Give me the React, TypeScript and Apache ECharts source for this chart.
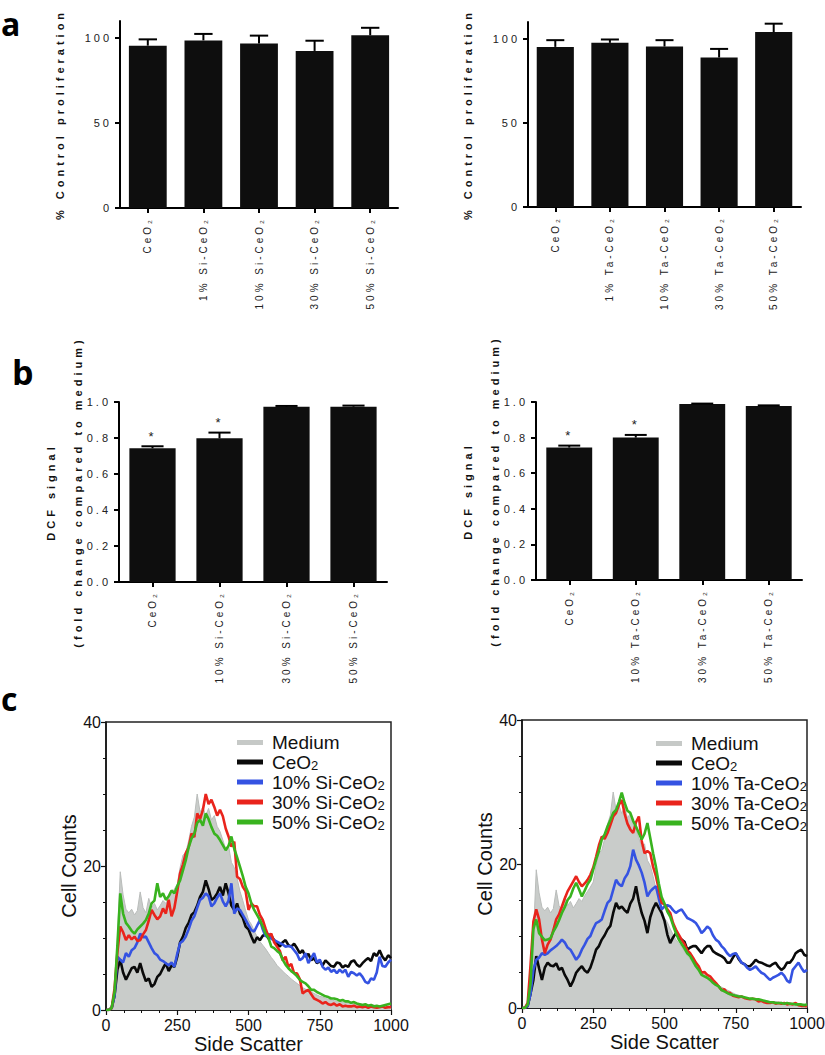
import React, { useEffect, useRef } from 'react';
import * as echarts from 'echarts';

const W = 825;
const H = 1055;
const FONT = "'Liberation Sans', Arial, Helvetica, sans-serif";

// ---------- Panel a : proliferation ----------
const catsASi = ['CeO₂', '1% Si-CeO₂', '10% Si-CeO₂', '30% Si-CeO₂', '50% Si-CeO₂'];
const meanASi = [95.5, 98.6, 96.7, 92.4, 101.6];
const errASi = [3.7, 3.8, 4.7, 6.0, 4.4];
const catsATa = ['CeO₂', '1% Ta-CeO₂', '10% Ta-CeO₂', '30% Ta-CeO₂', '50% Ta-CeO₂'];
const meanATa = [95.2, 97.6, 95.4, 88.9, 104.0];
const errATa = [4.0, 2.0, 3.8, 5.1, 5.0];
const ticksA = [0, 50, 100];

// ---------- Panel b : DCF signal ----------
const catsBSi = ['CeO₂', '10% Si-CeO₂', '30% Si-CeO₂', '50% Si-CeO₂'];
const meanBSi = [0.743, 0.798, 0.974, 0.974];
const errBSi = [0.011, 0.032, 0.004, 0.006];
const sigBSi = [1, 1, 0, 0];
const catsBTa = ['CeO₂', '10% Ta-CeO₂', '30% Ta-CeO₂', '50% Ta-CeO₂'];
const meanBTa = [0.744, 0.800, 0.989, 0.977];
const errBTa = [0.011, 0.015, 0.002, 0.004];
const sigBTa = [1, 1, 0, 0];

// ---------- Panel c : side scatter histograms (bins of 10, 0..1000) ----------
const BIN_STEP = 10;
const medium = [
  0, 0, 0.2, 2, 10, 19.2, 16, 14, 13.5, 14,
  13.2, 13.8, 16.4, 14.2, 13.5, 15.5, 14.2, 14.8, 13.9, 14.5,
  15.2, 14.8, 15.6, 16.2, 16.8, 17.5, 19.8, 21.5, 21.9, 23.5,
  25.5, 26.8, 30, 27.5, 28.2, 27, 28, 26.4, 27, 25.5,
  24.8, 23.6, 22.4, 22.8, 20.5, 19.8, 18.3, 16.5, 15.2, 13.8,
  12.5, 11.9, 11, 10.2, 9.5, 9, 8.5, 7.9, 7.3, 6.8,
  6.2, 5.8, 5.4, 5, 4.7, 4.3, 4, 3.7, 3.4, 3.1,
  2.9, 2.7, 2.5, 2.3, 2.1, 1.9, 1.8, 1.6, 1.5, 1.4,
  1.3, 1.2, 1.2, 1.1, 1.1, 1, 1, 0.9, 0.9, 0.9,
  0.8, 0.8, 0.7, 0.7, 0.7, 0.6, 0.6, 0.6, 0.5, 0.5, 0.5,
];
const siCeO2 = [
  0, 0, 0.3, 2, 5.6, 7, 5.2, 4.2, 5, 5.8,
  6, 5.2, 6.5, 5.1, 4, 4.4, 3.2, 3.6, 4.6, 5,
  5.8, 6.5, 5.4, 6.2, 6, 7.4, 9.4, 10.2, 11.4, 12.1,
  13.2, 13.6, 14.5, 15.7, 16.4, 18, 16.8, 15.3, 15.6, 16.2,
  17.1, 15.9, 17.6, 16.2, 14.5, 13.9, 14.8, 13.4, 12.8, 11.6,
  11.2, 10.2, 9.3, 10.1, 9.7, 10.3, 10.6, 9.9, 10.3, 9.7,
  9.2, 8.8, 9.4, 9.7, 9, 8.8, 9.2, 8.6, 7.9, 8.3,
  7.4, 7.8, 6.9, 7.2, 6.5, 6.8, 6.2, 6.9, 6.5, 6.1,
  6, 6.6, 6.5, 5.9, 6.2, 6, 6.7, 6.9, 6.3, 6,
  6.5, 6.9, 7.2, 6.8, 7.9, 7.5, 8.3, 7.4, 6.9, 7.6, 7.2,
];
const si10 = [
  0, 0, 0.3, 2, 7.4, 7, 6.6, 7.9, 7.4, 8.3,
  8.6, 9.4, 10.6, 10.1, 10.2, 9.4, 8.6, 7.9, 7.6, 7,
  6.8, 6.5, 6.2, 6.6, 6, 7.8, 9.3, 9.6, 10.2, 11.2,
  12.4, 13, 14.2, 15.3, 15.6, 16.2, 15.8, 14.4, 14.8, 15.6,
  16.2, 15.1, 14.4, 15.2, 17.6, 13.4, 14.1, 13.9, 13.2, 12.5,
  11.8, 11.1, 10.9, 11.7, 12.5, 11.2, 10.2, 10.6, 9.9, 9.7,
  9.5, 9.3, 9.1, 8.8, 8.9, 8.8, 8.3, 7.8, 6.9, 7.2,
  7.9, 6.5, 7.2, 7.9, 6.6, 7, 6, 5.6, 5.9, 5.3,
  5.6, 5.1, 5.6, 5.2, 5.6, 4.6, 5.3, 5.1, 4.8, 5.1,
  4.6, 3.9, 3.7, 4.4, 4.2, 5.2, 7.4, 6.1, 6, 6.6, 7,
];
const si30 = [
  0, 0, 0.3, 3, 8, 11.6, 10.8, 9.7, 10.4, 9.8,
  10.2, 9.6, 9.7, 10.5, 11.1, 12.4, 13.9, 13.2, 12.6, 13,
  14.1, 13.4, 15.3, 13, 14.2, 16.5, 19, 20.2, 21.8, 22.6,
  24.5, 24, 27.3, 26.5, 27.8, 30, 28.6, 29.2, 28.2, 27,
  27.8, 26.9, 25.2, 24.1, 22.7, 23.4, 18.5, 18.2, 17.1, 16.5,
  13.9, 14.8, 14.4, 14.4, 13.2, 12.5, 11.3, 10.2, 10.6, 9.4,
  8.8, 8.2, 6.9, 7.4, 6, 6.4, 5.1, 5.1, 4.3, 2.3,
  2.6, 2.8, 2.2, 1.6, 1.4, 1.2, 0.9, 1.1, 0.8, 0.7,
  0.9, 0.6, 0.8, 0.5, 0.6, 0.5, 0.5, 0.6, 0.4, 0.5,
  0.4, 0.5, 0.3, 0.5, 0.4, 0.3, 0.4, 0.5, 0.3, 0.4, 0.4,
];
const si50 = [
  0, 0, 0.3, 2.5, 9, 16.2, 13.4, 12.1, 11.6, 11,
  10.6, 11.2, 11.6, 12, 12.5, 13.4, 14.8, 15.2, 17.6, 15.7,
  16.2, 15.3, 15.8, 16.6, 16.2, 17.2, 18, 19.4, 20.8, 22.6,
  23.8, 24.5, 26, 26.4, 25.6, 27.3, 26.5, 25.4, 24.5, 24.2,
  23.6, 22.9, 22.2, 22.8, 24.1, 22.4, 21.2, 19.9, 18.6, 17.1,
  16.2, 14.8, 13.9, 13.2, 12.5, 11.6, 10.6, 10, 8.8, 8.6,
  8.2, 7.9, 7, 6.3, 5.8, 5.4, 5.1, 4.7, 4.2, 3.9,
  3.7, 3.3, 2.8, 2.8, 2.5, 2.3, 2.1, 1.9, 1.8, 1.6,
  1.6, 1.5, 1.3, 1.4, 1.2, 1.2, 1, 1.1, 0.9, 0.8,
  0.7, 0.8, 0.6, 0.7, 0.5, 0.6, 0.5, 0.6, 0.7, 0.8, 0.9,
];
const taCeO2 = [
  0, 0, 0.3, 2, 3.9, 7.2, 5.5, 3.9, 5.6, 6.3,
  5.9, 5.8, 6.2, 5.3, 5.6, 4.6, 3.9, 3, 3.8, 4.9,
  5.4, 5.8, 5.2, 4.9, 5.6, 6.8, 8.1, 8.6, 9.5, 10.1,
  10.9, 11.4, 13.2, 14.6, 13.8, 14.1, 13.6, 13.2, 14.5, 15.2,
  16.9, 14.8, 13.2, 12.1, 10.4, 12.6, 13.8, 14.6, 13.9, 13.2,
  12.1, 10.2, 9, 9.8, 10.4, 9.8, 9.5, 9.2, 8.1, 8.4,
  8.6, 8.6, 8.1, 7.6, 8.2, 8.6, 8.6, 7.9, 7.6, 7.4,
  7.2, 6.9, 6.3, 6.3, 7, 7.6, 6.8, 6.3, 6.1, 5.8,
  5.8, 6.2, 6.7, 6.4, 6.3, 6.1, 5.9, 5.8, 6.1, 6.3,
  5.7, 5.3, 5.6, 6.3, 6.3, 6.8, 7.6, 7.9, 8.1, 7.4, 7.2,
];
const ta10 = [
  0, 0, 0.3, 2, 5.3, 6.7, 7, 7.6, 7.4, 7.6,
  8, 8.3, 8.6, 9, 9.5, 9.1, 8.4, 8.1, 7.4, 6.7,
  7.2, 8.1, 8.8, 9.6, 10, 11, 11.8, 12, 12.3, 13.5,
  14.6, 15, 16.4, 17.8, 17.2, 16.9, 18, 18.6, 19.7, 22,
  20.6, 19.8, 18.8, 17.4, 15.5, 16.2, 16.6, 16.9, 15.2, 13.7,
  14.1, 14.3, 14.1, 13.6, 13.2, 13.5, 13.7, 13.1, 12.5, 12.3,
  12.1, 11.8, 11.2, 10.4, 10.8, 11.3, 11, 10.1, 9.5, 9.2,
  8.6, 8.2, 7.6, 7.2, 7.5, 7.6, 7, 6.3, 6.1, 5.6,
  5.3, 5.5, 5.8, 5.3, 4.9, 4.7, 4.3, 3.9, 4.2, 4.4,
  4.6, 4.9, 4.5, 3.8, 3.5, 5.3, 5.8, 6.3, 5.6, 5, 5.3,
];
const ta30 = [
  0, 0, 0.7, 6, 12, 13.7, 12.3, 9.5, 7.6, 8.8,
  9.5, 10.8, 12.3, 13, 14.1, 15.2, 16.2, 16.9, 17.6, 18.3,
  17.5, 16.9, 17.3, 17.8, 18.5, 19.5, 21, 22.6, 23.8, 23.5,
  24.3, 25.4, 26.6, 27.1, 28.2, 28.9, 27, 25.6, 24.8, 24.3,
  25.8, 26.6, 23.2, 21.5, 21.8, 21.5, 19.6, 18.3, 16.5, 14.6,
  14.4, 13.7, 13.2, 11.8, 10.9, 10.2, 9.5, 8.9, 8, 7.6,
  7, 6.3, 5.8, 4.9, 5, 4.6, 4.4, 3.9, 3.5, 3,
  2.5, 2.6, 2.1, 2.1, 1.7, 1.6, 1.5, 1.6, 1.4, 1.3,
  1.2, 1.3, 1.2, 0.9, 1, 0.8, 0.7, 0.7, 0.8, 0.6,
  0.7, 0.6, 0.7, 0.5, 0.6, 0.5, 0.7, 0.4, 0.3, 0.3, 0.2,
];
const ta50 = [
  0, 0, 0.5, 3.5, 11, 12.3, 10.4, 9.9, 9.4, 9.5,
  9.7, 10.6, 11.3, 12.2, 13.2, 14, 15, 15.5, 16.6, 17.4,
  16.5, 15.5, 16.3, 17.2, 17.8, 19.2, 20.6, 21.8, 23.4, 24.1,
  25.2, 26.1, 27.1, 27.5, 28.6, 29.9, 28.5, 27.4, 27.1, 26,
  25.2, 24.3, 23.4, 24.2, 25.7, 23.6, 21.5, 19.6, 17.3, 15.4,
  14.5, 13.4, 12.7, 11.5, 10.4, 9.5, 8.9, 8.3, 7.6, 7.2,
  6.5, 5.8, 5.3, 4.6, 4.4, 4.2, 3.9, 3.5, 3.2, 3,
  2.5, 2.3, 2.1, 1.9, 1.8, 1.7, 1.6, 1.6, 1.5, 1.4,
  1.3, 1.3, 1.2, 1.2, 1.1, 1, 0.9, 0.8, 0.8, 0.7,
  0.7, 0.7, 0.6, 0.7, 0.6, 0.6, 0.5, 0.5, 0.5, 0.4, 0.5,
];
const histNamesSi = ['Medium', 'CeO₂', '10% Si-CeO₂', '30% Si-CeO₂', '50% Si-CeO₂'];
const histNamesTa = ['Medium', 'CeO₂', '10% Ta-CeO₂', '30% Ta-CeO₂', '50% Ta-CeO₂'];
const histColors = ['#c6c9c7', '#0a0a0a', '#3553e2', '#e9241c', '#39b31f'];

// ---------- helpers ----------
const errorRender = (params: any, api: any) => {
  const i = api.value(0);
  const m = api.value(1);
  const e = api.value(2);
  const sig = api.value(3);
  const base = api.coord([i, m]);
  const top = api.coord([i, m + e]);
  const w = api.size([1, 0])[0] * 0.33;
  const children: any[] = [
    { type: 'line', shape: { x1: base[0], y1: base[1], x2: top[0], y2: top[1] }, style: { stroke: '#000', lineWidth: 2 } },
    { type: 'line', shape: { x1: top[0] - w / 2, y1: top[1], x2: top[0] + w / 2, y2: top[1] }, style: { stroke: '#000', lineWidth: 2 } },
  ];
  if (sig) {
    children.push({
      type: 'text', x: top[0], y: top[1] - 10,
      style: { text: '*', font: `13px ${FONT}`, fill: '#222', align: 'center', verticalAlign: 'middle', textAlign: 'center', textVerticalAlign: 'middle' },
    });
  }
  return { type: 'group', children };
};

const barXAxis = (gridIndex: number, cats: string[]) => ({
  type: 'category', gridIndex, data: cats,
  axisLine: { show: true, lineStyle: { color: '#000', width: 2 } },
  axisTick: { show: true, alignWithLabel: true, length: 5, lineStyle: { color: '#000', width: 2 } },
  axisLabel: { interval: 0, rotate: 90, fontSize: 10, fontFamily: FONT, color: '#222', margin: 9 },
  splitLine: { show: false },
});

const barYAxis = (gridIndex: number, max: number, interval: number, name: string, nameGap: number, fmt: (v: number) => string, custom?: number[]) => {
  const tick: any = { show: true, length: 5, lineStyle: { color: '#000', width: 2 } };
  const label: any = { fontSize: 11, fontFamily: FONT, color: '#222', margin: 8, formatter: fmt };
  if (custom) { tick.customValues = custom; label.customValues = custom; }
  return {
    type: 'value', gridIndex, min: 0, max, interval,
    name, nameLocation: 'middle', nameGap, nameRotate: 90,
    nameTextStyle: { fontSize: 11, fontWeight: 'bold', fontFamily: FONT, color: '#111', lineHeight: 27 },
    axisLine: { show: true, lineStyle: { color: '#000', width: 2 } },
    axisTick: tick, axisLabel: label,
    splitLine: { show: false },
  };
};

const barSeries = (k: number, means: number[], width: string) => ({
  type: 'bar', xAxisIndex: k, yAxisIndex: k, data: means, barWidth: width, silent: true,
  itemStyle: { color: '#0e0e0e' },
});

const errSeries = (k: number, means: number[], errs: number[], sig?: number[]) => ({
  type: 'custom', xAxisIndex: k, yAxisIndex: k, silent: true, z: 5,
  renderItem: errorRender,
  encode: { x: 0, y: 1 },
  data: means.map((m, i) => [i, m, errs[i], sig ? sig[i] : 0]),
});

const histXAxis = (gridIndex: number) => ({
  type: 'value', gridIndex, min: 0, max: 1000, interval: 250,
  name: 'Side Scatter', nameLocation: 'middle', nameGap: 24,
  nameTextStyle: { fontSize: 20, fontFamily: FONT, color: '#111' },
  axisLine: { show: true, onZero: false, lineStyle: { color: '#111', width: 1.5 } },
  axisTick: { show: true, length: 5, lineStyle: { color: '#111', width: 1.2 } },
  minorTick: { show: true, splitNumber: 4, length: 3, lineStyle: { color: '#111', width: 1 } },
  axisLabel: { fontSize: 16, fontFamily: FONT, color: '#111', margin: 7, formatter: (v: number) => String(v) },
  splitLine: { show: false },
  minorSplitLine: { show: false },
});

const histYAxis = (gridIndex: number) => ({
  type: 'value', gridIndex, min: 0, max: 40, interval: 20,
  name: 'Cell Counts', nameLocation: 'middle', nameGap: 27, nameRotate: 90,
  nameTextStyle: { fontSize: 20, fontFamily: FONT, color: '#111' },
  axisLine: { show: true, onZero: false, lineStyle: { color: '#111', width: 1.5 } },
  axisTick: { show: true, length: 5, lineStyle: { color: '#111', width: 1.2 } },
  minorTick: { show: true, splitNumber: 4, length: 3, lineStyle: { color: '#111', width: 1 } },
  axisLabel: { fontSize: 16, fontFamily: FONT, color: '#111', margin: 5 },
  splitLine: { show: false },
  minorSplitLine: { show: false },
});

const histSeries = (k: number, names: string[], datas: number[][]) =>
  datas.map((d, j) => {
    const color = histColors[j];
    const pts = d.map((c, i) => [i * BIN_STEP, c]);
    const base: any = {
      type: 'line', name: names[j], xAxisIndex: k, yAxisIndex: k, data: pts,
      showSymbol: false, symbol: 'none', silent: true, color,
      itemStyle: { color },
    };
    if (j === 0) {
      base.lineStyle = { color: '#b9bcba', width: 1 };
      base.areaStyle = { color: '#c9ccca', opacity: 1 };
    } else {
      base.lineStyle = { color, width: 2.6 };
    }
    return base;
  });

const legendFmt = (name: string) =>
  name.endsWith('₂') ? `{n|${name.slice(0, -1)}}{s|2}` : `{n|${name}}`;

const histLegend = (left: number, top: number, names: string[]) => ({
  orient: 'vertical', left, top, itemWidth: 26, itemHeight: 5, itemGap: 0.5,
  icon: 'rect', selectedMode: false, data: names, formatter: legendFmt,
  itemStyle: { borderWidth: 0 },
  textStyle: {
    fontFamily: FONT, fontSize: 19, color: '#111',
    rich: {
      n: { fontFamily: FONT, fontSize: 19, color: '#111', lineHeight: 20, padding: [0, 0, 0, 4] },
      s: { fontFamily: FONT, fontSize: 13, color: '#111', lineHeight: 12, verticalAlign: 'bottom' },
    },
  },
});

const topOption: any = {
  animation: false,
  grid: [
    { left: 120, top: 21, width: 278, height: 187, outerBoundsMode: 'none' },
    { left: 528, top: 22, width: 273, height: 185, outerBoundsMode: 'none' },
    { left: 119, top: 402, width: 268, height: 180, outerBoundsMode: 'none' },
    { left: 536, top: 402, width: 266, height: 178, outerBoundsMode: 'none' },
  ],
  xAxis: [barXAxis(0, catsASi), barXAxis(1, catsATa), barXAxis(2, catsBSi), barXAxis(3, catsBTa)],
  yAxis: [
    barYAxis(0, 110, 50, '% Control proliferation', 47, (v) => String(v), ticksA),
    barYAxis(1, 110, 50, '% Control proliferation', 47, (v) => String(v), ticksA),
    barYAxis(2, 1, 0.2, 'DCF signal\n(fold change compared to medium)', 28, (v) => v.toFixed(1)),
    barYAxis(3, 1, 0.2, 'DCF signal\n(fold change compared to medium)', 28, (v) => v.toFixed(1)),
  ],
  series: [
    barSeries(0, meanASi, '68%'), errSeries(0, meanASi, errASi),
    barSeries(1, meanATa, '68%'), errSeries(1, meanATa, errATa),
    barSeries(2, meanBSi, '69%'), errSeries(2, meanBSi, errBSi, sigBSi),
    barSeries(3, meanBTa, '69%'), errSeries(3, meanBTa, errBTa, sigBTa),
  ],
};

const letter = (t: string, x: number, y: number, size: number) => ({
  type: 'text', x, y, silent: true,
  style: {
    text: t, font: `bold ${size}px 'Open Sans', 'DejaVu Sans', sans-serif`, fill: '#000',
    align: 'left', verticalAlign: 'middle', textAlign: 'left', textVerticalAlign: 'middle',
  },
});

const bottomOption: any = {
  animation: false,
  grid: [
    { left: 106, top: 722, width: 285, height: 288, show: true, borderColor: '#222', borderWidth: 1.5, outerBoundsMode: 'none' },
    { left: 522, top: 720, width: 285, height: 288, show: true, borderColor: '#222', borderWidth: 1.5, outerBoundsMode: 'none' },
  ],
  xAxis: [histXAxis(0), histXAxis(1)],
  yAxis: [histYAxis(0), histYAxis(1)],
  legend: [histLegend(232, 728, histNamesSi), histLegend(651, 729, histNamesTa)],
  graphic: [letter('a', 1, 23, 32), letter('b', 12, 372, 34), letter('c', 1, 698, 32)],
  series: [
    ...histSeries(0, histNamesSi, [medium, siCeO2, si10, si30, si50]),
    ...histSeries(1, histNamesTa, [medium, taCeO2, ta10, ta30, ta50]),
  ],
};

const spaceOut = (el: HTMLElement | null) => {
  if (!el) return;
  el.querySelectorAll('text').forEach((t) => {
    const w = parseInt(getComputedStyle(t).fontWeight || '400', 10);
    (t as SVGTextElement).style.letterSpacing = w >= 600 ? '4px' : '3px';
  });
};

export default function App() {
  const topRef = useRef<HTMLDivElement>(null);
  const botRef = useRef<HTMLDivElement>(null);
  useEffect(() => {
    const bot = echarts.init(botRef.current as HTMLDivElement, null, { renderer: 'svg', width: W, height: H });
    const top = echarts.init(topRef.current as HTMLDivElement, null, { renderer: 'svg', width: W, height: H });
    bot.setOption(bottomOption);
    top.setOption(topOption);
    const apply = () => spaceOut(topRef.current);
    apply();
    top.on('finished', apply);
    const timer = setTimeout(apply, 60);
    return () => {
      clearTimeout(timer);
      top.dispose();
      bot.dispose();
    };
  }, []);
  return (
    <div style={{ position: 'absolute', left: 0, top: 0, width: W, height: H, background: '#fff' }}>
      <div ref={botRef} style={{ position: 'absolute', left: 0, top: 0, width: W, height: H }} />
      <div ref={topRef} style={{ position: 'absolute', left: 0, top: 0, width: W, height: H }} />
    </div>
  );
}
